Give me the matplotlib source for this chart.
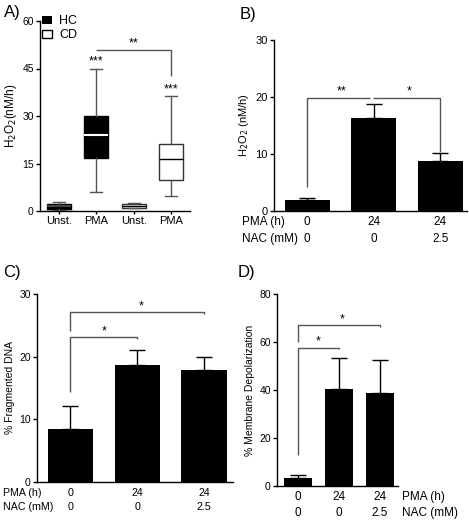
import matplotlib
matplotlib.use("Agg")
import matplotlib.pyplot as plt
import matplotlib.transforms as mtransforms

plt.rcParams['font.family'] = ['Liberation Sans', 'DejaVu Sans']
plt.rcParams['font.size'] = 7.5
plt.rcParams['axes.linewidth'] = 1.0

# A) box plots H2O2
box_labels = ["Unst.", "PMA", "Unst.", "PMA"]
box_groups = ["HC", "HC", "CD", "CD"]
box_med = [1.6, 24.1, 1.6, 16.3]
box_q1 = [0.5, 16.8, 1.0, 9.7]
box_q3 = [2.3, 30.0, 2.3, 21.2]
box_lo = [0.2, 6.0, 0.8, 4.7]
box_hi = [2.8, 45.0, 2.5, 36.2]

# B) H2O2 bars
b_pma = ["0", "24", "24"]
b_nac = ["0", "0", "2.5"]
b_mean = [2.0, 16.4, 8.8]
b_err = [0.2, 2.3, 1.4]

# C) fragmented DNA
c_pma = ["0", "24", "24"]
c_nac = ["0", "0", "2.5"]
c_mean = [8.5, 18.6, 17.9]
c_err = [3.7, 2.5, 2.1]

# D) membrane depolarization
d_pma = ["0", "24", "24"]
d_nac = ["0", "0", "2.5"]
d_mean = [3.4, 40.6, 38.6]
d_err = [1.2, 12.6, 14.0]

W, H = 469, 525
fig = plt.figure(figsize=(W / 100, H / 100), dpi=100)


def px_axes(l, r, top, bot):
    return fig.add_axes([l / W, 1 - bot / H, (r - l) / W, (bot - top) / H])


def style(ax, size=7.5):
    ax.spines['top'].set_visible(False)
    ax.spines['right'].set_visible(False)
    ax.tick_params(axis='y', length=3, width=1, pad=1.5, labelsize=size)


bracket_c = '#555555'


def bracket(ax, x0, x1, y, y0=None, y1=None, text=None, tx=None):
    xs, ys = [], []
    if y0 is not None:
        xs.append(x0); ys.append(y0)
    xs += [x0, x1]; ys += [y, y]
    if y1 is not None:
        xs.append(x1); ys.append(y1)
    ax.plot(xs, ys, color=bracket_c, lw=1.0, solid_capstyle='butt')
    if text:
        ax.text(tx if tx is not None else (x0 + x1) / 2, y, text,
                ha='center', va='bottom', fontsize=9)


def bar_panel(ax, means, errs, ylim, yticks, ylabel, size=7.5, lsize=7.5):
    x = list(range(len(means)))
    ax.bar(x, means, width=0.68, color='black', zorder=2)
    ax.errorbar(x, means, yerr=[[0] * len(errs), errs], fmt='none',
                ecolor='black', elinewidth=1.0, capsize=6, capthick=1.0, zorder=1)
    ax.set_ylim(*ylim)
    ax.set_yticks(yticks)
    ax.set_xticks([])
    ax.set_ylabel(ylabel, labelpad=3, fontsize=lsize)
    style(ax, size)


def row_labels(ax, pma, nac, y_pma, y_nac, lab_x, size):
    tr = mtransforms.blended_transform_factory(ax.transData, ax.transAxes)
    for i, (p, n) in enumerate(zip(pma, nac)):
        ax.text(i, y_pma, p, transform=tr, ha='center', va='center', fontsize=size)
        ax.text(i, y_nac, n, transform=tr, ha='center', va='center', fontsize=size)
    ax.text(lab_x, y_pma, "PMA (h)", transform=tr, ha='left', va='center', fontsize=size)
    ax.text(lab_x, y_nac, "NAC (mM)", transform=tr, ha='left', va='center', fontsize=size)


# ---- A
axA = px_axes(40, 190, 21, 211)
stats = []
for i in range(4):
    stats.append(dict(med=box_med[i], q1=box_q1[i], q3=box_q3[i],
                      whislo=box_lo[i], whishi=box_hi[i], fliers=[]))
pos = [0, 1, 2, 3]
bp = axA.bxp(stats, positions=pos, widths=0.63, patch_artist=True,
             showfliers=False)
for i, g in enumerate(box_groups):
    box = bp['boxes'][i]
    if g == "HC":
        box.set_facecolor('black'); box.set_edgecolor('black')
        bp['medians'][i].set_color('white' if i == 1 else '#444444')
        bp['medians'][i].set_linewidth(1.5)
    else:
        box.set_facecolor('white'); box.set_edgecolor('#333333')
        bp['medians'][i].set_color('black')
        bp['medians'][i].set_linewidth(1.0)
    box.set_linewidth(1.0)
for ln in bp['whiskers'] + bp['caps']:
    ln.set_color('#555555'); ln.set_linewidth(1.0)
axA.set_xlim(-0.5, 3.5)
axA.set_ylim(0, 60)
axA.set_yticks([0, 15, 30, 45, 60])
axA.set_xticks(pos)
axA.set_xticklabels(box_labels, fontsize=8)
axA.tick_params(axis='x', length=2.5, width=1, pad=1)
axA.set_ylabel("H$_2$O$_2$(nM/h)", labelpad=2, fontsize=8.5)
style(axA)
bracket(axA, 1, 3, 50.9, y1=42.7, text="**", tx=2)
axA.text(1, 45.3, "***", ha='center', va='bottom', fontsize=9)
axA.text(3, 36.5, "***", ha='center', va='bottom', fontsize=9)
axA.bar([0], [0], color='black', label="HC")
axA.bar([0], [0], color='white', edgecolor='black', label="CD")
axA.legend(loc='upper left', bbox_to_anchor=(0.01, 1.03), frameon=False,
           fontsize=9, handlelength=0.85, handleheight=0.55,
           handletextpad=0.55, labelspacing=0.15, borderpad=0, borderaxespad=0)

# ---- B
axB = px_axes(274, 467, 40, 211)
bar_panel(axB, b_mean, b_err, (0, 30), [0, 10, 20, 30], "H$_2$O$_2$ (nM/h)",
          size=8, lsize=8)
axB.set_xlim(-0.5, 2.4)
bracket(axB, 0, 0.94, 19.9, y0=4.2, text="**", tx=0.52)
bracket(axB, 0.99, 2, 19.9, y1=10.3, text="*", tx=1.53)
row_labels(axB, b_pma, b_nac, -0.066, -0.163, -0.985, 8.5)

# ---- C
axC = px_axes(37, 233, 294, 482)
bar_panel(axC, c_mean, c_err, (0, 30), [0, 10, 20, 30], "% Fragmented DNA")
axC.set_xlim(-0.5, 2.43)
bracket(axC, 0, 1, 23.1, y0=14.3, y1=22.8, text="*", tx=0.5)
bracket(axC, 0, 2, 27.1, y0=24.1, y1=26.8, text="*", tx=1.05)
row_labels(axC, c_pma, c_nac, -0.058, -0.135, -1.01, 7.7)

# ---- D
axD = px_axes(277, 398, 294, 486)
bar_panel(axD, d_mean, d_err, (0, 80), [0, 20, 40, 60, 80],
          "% Membrane Depolarization")
axD.set_xlim(-0.51, 2.44)
bracket(axD, 0, 1, 57.7, y0=13.1, y1=57.0, text="*", tx=0.5)
bracket(axD, 0, 2, 66.9, y0=60.2, y1=66.1, text="*", tx=1.08)
row_labels(axD, d_pma, d_nac, -0.057, -0.14, 2.54, 8.5)

# panel letters
for lab, x, y in [("A)", 4, 12), ("B)", 240, 15), ("C)", 3, 273), ("D)", 238, 273)]:
    fig.text(x / W, 1 - y / H, lab, fontsize=12, ha='left', va='center')

fig.savefig("out.png", dpi=100)
